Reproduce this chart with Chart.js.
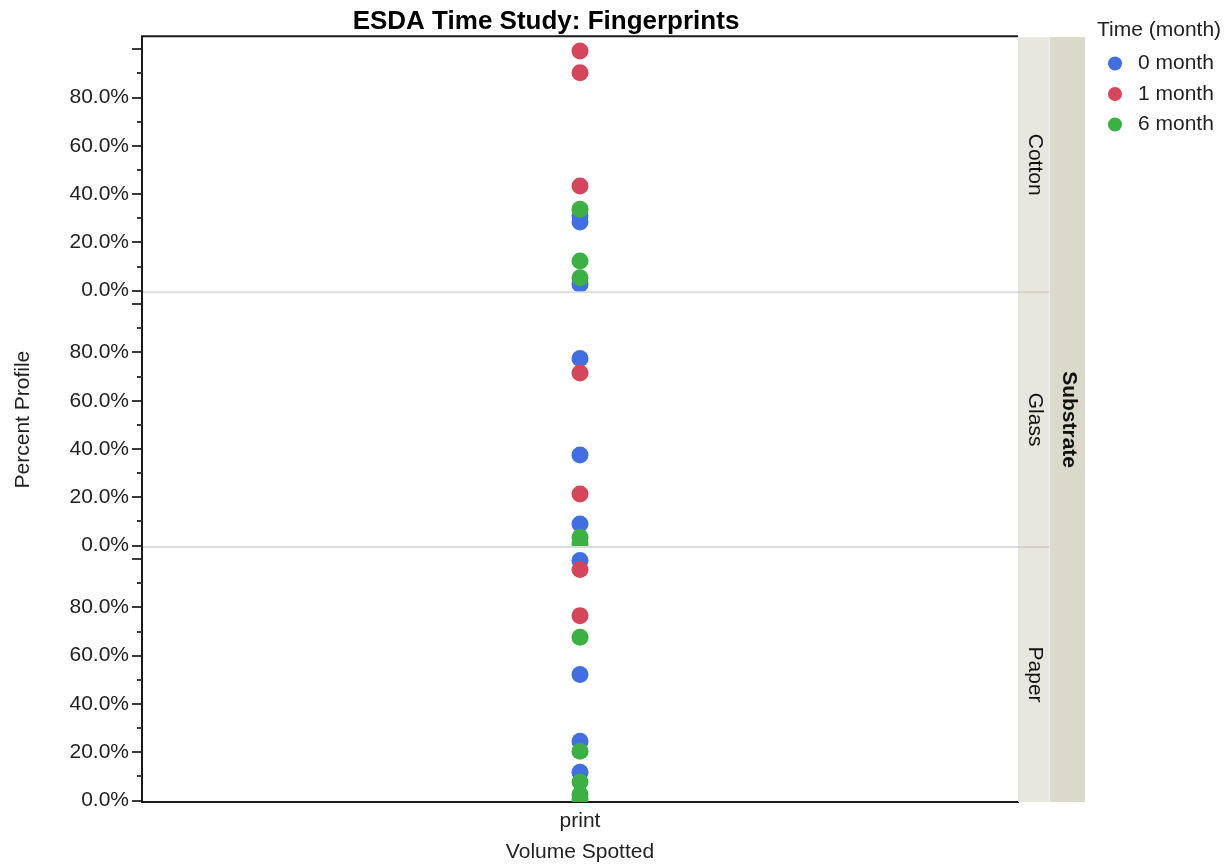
<!DOCTYPE html>
<html>
<head>
<meta charset="utf-8">
<script src="https://cdn.jsdelivr.net/npm/chart.js@4/dist/chart.umd.min.js"></script>
<style>
html,body{margin:0;padding:0;background:#fff;}
#wrap{position:relative;width:1229px;height:865px;}
</style>
</head>
<body>
<div id="wrap"><canvas id="c" width="1229" height="865"></canvas></div>
<script>
// ---- data ----
const chartTitle = 'ESDA Time Study: Fingerprints';
const xTitle = 'Volume Spotted';
const yTitle = 'Percent Profile';
const stripTitle = 'Substrate';
const legendTitle = 'Time (month)';
const categories = ['print'];
const substrates = ['Cotton', 'Glass', 'Paper'];
const times = ['0 month', '1 month', '6 month'];
const timeColors = ['#416EE0', '#D5465A', '#3BB043'];
const yTicks = [0, 20, 40, 60, 80, 100];
const yTickLabels = ['0.0%', '20.0%', '40.0%', '60.0%', '80.0%', ''];
const yMinorTicks = [10, 30, 50, 70, 90];
const yMin = -0.6;
const yMax = 105;

// values in percent, one array per substrate and time
const cotton0 = [31.0, 28.5, 2.7];
const cotton1 = [99.3, 90.3, 43.4];
const cotton6 = [33.7, 12.3, 5.4];
const glass0 = [77.5, 37.5, 9.0];
const glass1 = [71.5, 21.4];
const glass6 = [3.5, 0.7];
const paper0 = [99.4, 52.2, 24.6, 11.7];
const paper1 = [95.7, 76.6];
const paper6 = [67.6, 20.4, 7.7, 2.5, 0.5];

const series = {
  Cotton: [cotton0, cotton1, cotton6],
  Glass: [glass0, glass1, glass6],
  Paper: [paper0, paper1, paper6]
};
const axisIds = { Cotton: 'yCotton', Glass: 'yGlass', Paper: 'yPaper' };

// ---- chart ----
const FONT = 'Arial, "Liberation Sans", sans-serif';
Chart.defaults.font.family = FONT;
Chart.defaults.color = '#222';

const datasets = [];
substrates.forEach(s => {
  series[s].forEach((vals, ti) => {
    datasets.push({
      label: times[ti],
      data: vals.map(v => ({ x: categories[0], y: v })),
      xAxisID: 'x',
      yAxisID: axisIds[s],
      backgroundColor: timeColors[ti],
      borderColor: timeColors[ti],
      pointRadius: 8.5,
      pointHoverRadius: 8.5,
      pointBorderWidth: 0,
      showLine: false,
      clip: 0,
      order: 2 - ti
    });
  });
});

function yScale(showTitle) {
  return {
    type: 'linear',
    position: 'left',
    stack: 'panels',
    stackWeight: 1,
    min: yMin,
    max: yMax,
    afterBuildTicks: sc => { sc.ticks = yTicks.map(v => ({ value: v })); },
    afterFit: sc => { sc.width = 135; },
    grid: { display: true, drawOnChartArea: false, drawTicks: true, tickLength: 10,
            tickColor: '#3a3a3a', tickWidth: 2, lineWidth: 2, color: '#3a3a3a' },
    border: { display: true, color: '#1a1a1a', width: 2 },
    ticks: {
      autoSkip: false, padding: 3, color: '#222', font: { size: 21 },
      callback: v => { const i = yTicks.indexOf(v); return i >= 0 ? yTickLabels[i] : ''; }
    },
    title: { display: showTitle, text: yTitle, color: '#222', font: { size: 21 },
             padding: { top: 4, bottom: 4 } }
  };
}

const overlay = {
  id: 'overlay',
  afterDraw(chart) {
    const ctx = chart.ctx;
    const a = chart.chartArea;
    const panels = substrates.map(s => chart.scales[axisIds[s]]);
    const stripL = a.right, stripM = a.right + 32, stripR = a.right + 67;
    ctx.save();

    // panel separators
    ctx.strokeStyle = '#DDDDDD';
    ctx.lineWidth = 2;
    for (let i = 1; i < panels.length; i++) {
      const y = panels[i].top;
      ctx.beginPath(); ctx.moveTo(a.left + 1, y); ctx.lineTo(a.right, y); ctx.stroke();
    }
    // top frame line
    ctx.strokeStyle = '#1a1a1a';
    ctx.lineWidth = 2;
    ctx.beginPath(); ctx.moveTo(a.left - 1, a.top - 1); ctx.lineTo(a.right, a.top - 1); ctx.stroke();

    // minor ticks
    ctx.strokeStyle = '#3a3a3a';
    ctx.lineWidth = 2;
    panels.forEach(sc => {
      yMinorTicks.forEach(v => {
        const y = Math.round(sc.getPixelForValue(v));
        ctx.beginPath(); ctx.moveTo(sc.right - 5, y); ctx.lineTo(sc.right, y); ctx.stroke();
      });
    });

    // strips
    ctx.fillStyle = '#E7E6DF';
    ctx.fillRect(stripL, a.top, stripM - stripL, a.bottom - a.top);
    ctx.fillStyle = '#DBD9CA';
    ctx.fillRect(stripM, a.top, stripR - stripM, a.bottom - a.top);
    ctx.strokeStyle = '#D3D1C6';
    ctx.lineWidth = 2;
    for (let i = 1; i < panels.length; i++) {
      const y = panels[i].top;
      ctx.beginPath(); ctx.moveTo(stripL, y); ctx.lineTo(stripM, y); ctx.stroke();
    }
    ctx.strokeStyle = '#F2F1EC';
    ctx.lineWidth = 1;
    ctx.beginPath(); ctx.moveTo(stripM - 0.5, a.top); ctx.lineTo(stripM - 0.5, a.bottom); ctx.stroke();

    ctx.fillStyle = '#111';
    ctx.textAlign = 'center';
    ctx.textBaseline = 'middle';
    ctx.font = '21px ' + FONT;
    panels.forEach((sc, i) => {
      ctx.save();
      ctx.translate((stripL + stripM) / 2 + 1, (sc.top + sc.bottom) / 2);
      ctx.rotate(Math.PI / 2);
      ctx.fillText(substrates[i], 0, 0);
      ctx.restore();
    });
    ctx.font = 'bold 21px ' + FONT;
    ctx.save();
    ctx.translate((stripM + stripR) / 2 + 1, (a.top + a.bottom) / 2);
    ctx.rotate(Math.PI / 2);
    ctx.fillText(stripTitle, 0, 0);
    ctx.restore();

    // legend
    const lx = stripR + 12;
    ctx.textAlign = 'left';
    ctx.font = '21px ' + FONT;
    ctx.fillStyle = '#222';
    ctx.fillText(legendTitle, lx, 30);
    times.forEach((t, i) => {
      const cy = 63.5 + 30.5 * i;
      ctx.fillStyle = timeColors[i];
      ctx.beginPath(); ctx.arc(lx + 18, cy, 7, 0, Math.PI * 2); ctx.fill();
      ctx.fillStyle = '#222';
      ctx.fillText(t, lx + 41, cy);
    });
    ctx.restore();
  }
};

new Chart(document.getElementById('c'), {
  type: 'scatter',
  data: { labels: categories, datasets },
  options: {
    responsive: false,
    animation: false,
    events: [],
    layout: { padding: { left: 7, right: 144, top: 0, bottom: 0 } },
    plugins: {
      legend: { display: false },
      tooltip: { enabled: false },
      title: { display: true, text: chartTitle, color: '#000',
               font: { size: 26, weight: 'bold' }, padding: { top: 6, bottom: 0 } }
    },
    scales: {
      x: {
        type: 'category', labels: categories, offset: true, position: 'bottom',
        grid: { display: true, drawOnChartArea: false, drawTicks: false },
        border: { display: true, color: '#1a1a1a', width: 2 },
        ticks: { padding: 7, color: '#222', font: { size: 21 } },
        title: { display: true, text: xTitle, color: '#222', font: { size: 21 },
                 padding: { top: 4, bottom: 0 } },
        afterFit: sc => { sc.height = 63; }
      },
      yPaper: yScale(false),
      yGlass: yScale(true),
      yCotton: yScale(false),
      strip: {
        type: 'linear', position: 'right', display: true,
        grid: { display: false, drawTicks: false },
        border: { display: false },
        ticks: { display: false },
        afterFit: sc => { sc.width = 67; }
      }
    }
  },
  plugins: [overlay]
});
</script>
</body>
</html>
